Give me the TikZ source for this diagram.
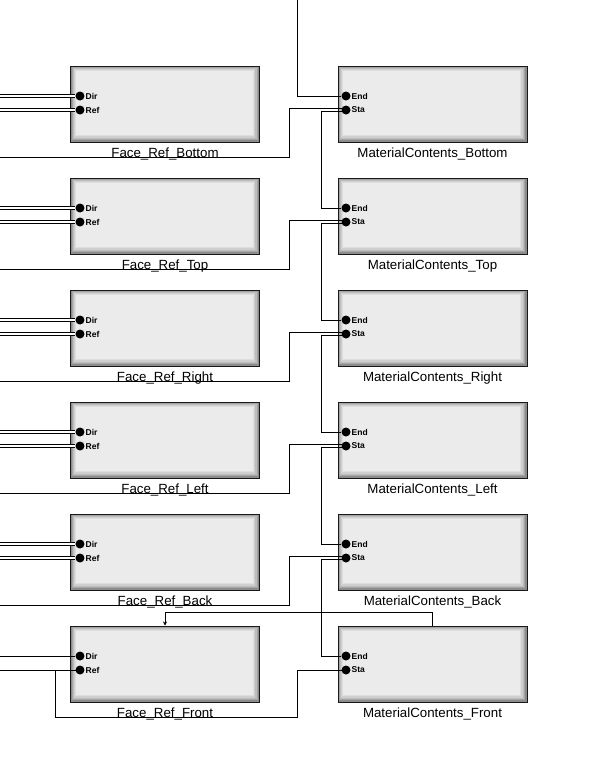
\documentclass[tikz,border=0pt]{standalone}
\usepackage{fontspec}
\setmainfont{Liberation Sans}
\usetikzlibrary{arrows.meta,calc}
\definecolor{bvA}{HTML}{8C8C8C}
\definecolor{bvB}{HTML}{A6A6A6}
\definecolor{bvC}{HTML}{BDBDBD}
\definecolor{bvD}{HTML}{CFCFCF}
\definecolor{bvE}{HTML}{DEDEDE}
\definecolor{bvF}{HTML}{EBEBEB}
\begin{document}
\begin{tikzpicture}[x=1pt,y=-1pt,
  boxnode/.style={rectangle, draw=black!90, line width=1pt, minimum width=189pt,
    minimum height=76pt, inner sep=0pt, fill=bvA,
    path picture={
      \foreach \ia/\ib/\ic in {1/2/bvB, 2/3/bvC, 3/4.5/bvD, 4/6/bvE, 5/7/bvF} {
        \fill[\ic] ($(path picture bounding box.north west)+(\ia,\ia)$) rectangle
                   ($(path picture bounding box.south east)+(-\ib,-\ib)$);
      }}},
  portdot/.style={circle, fill=black, inner sep=0pt, minimum size=9pt},
  portlbl/.style={anchor=west, inner sep=0pt, font=\fontsize{8.5}{10}\selectfont\bfseries},
  boxlbl/.style={anchor=base, inner sep=0pt, font=\fontsize{13.3}{15}\selectfont},
  wire/.style={line width=1pt, draw=black},
  dwire/.style={wire, double=white, double distance=2.5pt}]
\fill[white] (0,0) rectangle (616,766);
\useasboundingbox (0,0) rectangle (616,766);

\foreach \k/\nm in {0/Bottom,1/Top,2/Right,3/Left,4/Back,5/Front} {
  \pgfmathsetmacro\dy{112*\k}
  \node[boxnode] (fr\k) at (165, 104+\dy) {};
  \node[boxnode] (mc\k) at (432.5, 104+\dy) {};
  \node[boxlbl] (frl\k) at (165, 157.5+\dy) {Face\_Ref\_\nm};
  \node[boxlbl] (mcl\k) at (432.5, 157.5+\dy) {MaterialContents\_\nm};
  \node[portdot] (dir\k) at (80, 96+\dy) {};
  \node[portdot] (ref\k) at (80, 110+\dy) {};
  \node[portdot] (end\k) at (346, 96+\dy) {};
  \node[portdot] (sta\k) at (346, 110+\dy) {};
  \node[portlbl] (dirl\k) at (85.5, 96+\dy) {Dir};
  \node[portlbl] (refl\k) at (85.5, 110+\dy) {Ref};
  \node[portlbl] (endl\k) at (351.5, 96+\dy) {End};
  \node[portlbl] (stal\k) at (351.5, 110+\dy) {Sta};
  \coordinate (dirin\k) at (0, 96+\dy);
  \coordinate (refin\k) at (0, 110+\dy);
}

% top incoming wire
\coordinate (topin) at (297.5,0);
\draw[wire] (topin) |- (end0);

\foreach \k in {0,...,4} {
  \pgfmathsetmacro\dy{112*\k}
  \pgfmathtruncatemacro\kk{\k+1}
  \coordinate (lin\k) at (0, 157+\dy);
  % double wires to Dir and Ref
  \draw[dwire] (dirin\k) -- (dir\k);
  \draw[dwire] (refin\k) -- (ref\k);
  % wire from the left into Sta
  \draw[wire] (lin\k) -| ($(sta\k.center)+(-57,-2)$) -- ($(sta\k.center)+(-3,-2)$);
  % Sta to next End
  \draw[wire] ($(sta\k.center)+(-3,1.5)$) -- ($(sta\k.center)+(-25,1.5)$) |- (end\kk);
}

% last row
\draw[wire] (dirin5) -- (dir5);
\draw[wire] (refin5) -- (ref5);
\draw[wire] (sta5.center) -- ++(-49,0) -- ++(0,47) -- ++(-242,0) -- ++(0,-47) -- (ref5.center);
\draw[wire, -{Stealth[length=4pt,width=4pt]}] (mc5.north) -- ++(0,-13) -| (fr5.north);
\end{tikzpicture}
\end{document}
